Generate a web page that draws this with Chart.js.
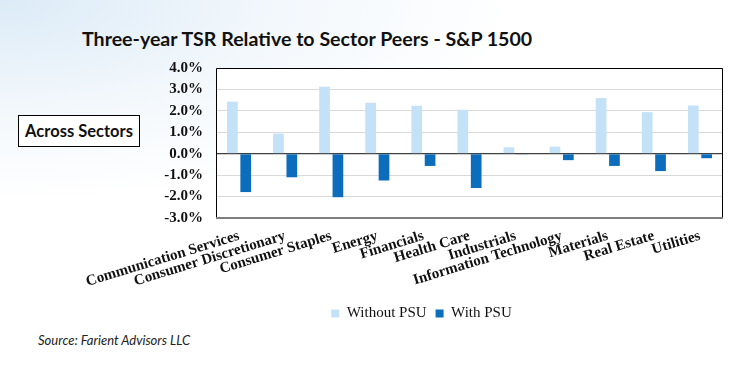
<!DOCTYPE html>
<html>
<head>
<meta charset="utf-8">
<script src="https://cdn.jsdelivr.net/npm/chart.js@4/dist/chart.umd.min.js"></script>
<style>
	html, body { margin: 0; padding: 0; }
	body {
		width: 740px;
		height: 365px;
		position: relative;
		overflow: hidden;
		background: radial-gradient(ellipse 520px 200px at 0 0, #dcebf7 0%, #f3f8fc 55%, #ffffff 100%);
	}
	#title {
		position: absolute; left: 82px; top: 27px;
		font: bold 19.6px Lato, sans-serif; color: #111; white-space: nowrap;
	}
	#tag {
		position: absolute; left: 18px; top: 115px; width: 120px; height: 30px;
		border: 1px solid #000; background: #fff;
		font: bold 16.5px Lato, sans-serif; line-height: 30px; text-align: center; color: #111;
	}
	#source {
		position: absolute; left: 38px; top: 332px;
		font: italic 13px Lato, sans-serif; color: #222;
	}
	#wrap { position: absolute; left: 0; top: 0; width: 740px; height: 365px; }
</style>
</head>
<body>
<div id="title">Three-year TSR Relative to Sector Peers - S&amp;P 1500</div>
<div id="tag">Across Sectors</div>
<div id="source">Source: Farient Advisors LLC</div>
<div id="wrap"><canvas id="tsr-chart"></canvas></div>
<script>
const sectors = ['Communication Services', 'Consumer Discretionary', 'Consumer Staples', 'Energy', 'Financials',
	'Health Care', 'Industrials', 'Information Technology', 'Materials', 'Real Estate', 'Utilities'];
const withoutPsu = [2.43, 0.94, 3.13, 2.38, 2.24, 2.05, 0.30, 0.33, 2.60, 1.94, 2.25];
const withPsu = [-1.79, -1.10, -2.03, -1.25, -0.57, -1.60, -0.02, -0.30, -0.57, -0.81, -0.21];
const yTicks = [4, 3, 2, 1, 0, -1, -2, -3];

// white plot area + black frame around it
const plotFrame = {
	id: 'plotFrame',
	beforeDraw(chart) {
		const { ctx, chartArea: a } = chart;
		ctx.save();
		ctx.fillStyle = '#fff';
		ctx.fillRect(a.left, a.top, a.width, a.height);
		ctx.restore();
	},
	afterDatasetsDraw(chart) {
		const { ctx, chartArea: a } = chart;
		ctx.save();
		ctx.strokeStyle = '#000';
		ctx.lineWidth = 1;
		ctx.beginPath();
		ctx.moveTo(a.left + 0.5, a.bottom);
		ctx.lineTo(a.left + 0.5, a.top + 0.5);
		ctx.lineTo(a.right - 0.5, a.top + 0.5);
		ctx.lineTo(a.right - 0.5, a.bottom);
		ctx.stroke();
		ctx.strokeStyle = '#7f7f7f';
		ctx.lineWidth = 2;
		ctx.beginPath();
		ctx.moveTo(a.left, a.bottom);
		ctx.lineTo(a.right, a.bottom);
		ctx.stroke();
		ctx.restore();
	}
};

new Chart(document.getElementById('tsr-chart'), {
	type: 'bar',
	data: {
		labels: sectors,
		datasets: [{
			label: 'Without PSU',
			data: withoutPsu,
			backgroundColor: '#c3e2f8',
			categoryPercentage: 0.58,
			barPercentage: 0.8
		}, {
			label: 'With PSU',
			data: withPsu,
			backgroundColor: '#0b6dbb',
			categoryPercentage: 0.58,
			barPercentage: 0.8
		}]
	},
	options: {
		responsive: true,
		maintainAspectRatio: false,
		animation: false,
		layout: { padding: { left: 120, right: 17, top: 68, bottom: 34 } },
		plugins: {
			legend: {
				position: 'bottom',
				labels: {
					boxWidth: 8, boxHeight: 8, color: '#111', padding: 9,
					font: { family: '"Liberation Serif", serif', size: 15 }
				}
			},
			tooltip: { enabled: false }
		},
		scales: {
			x: {
				grid: { display: false, drawTicks: false },
				border: { display: false },
				afterFit: s => { s.height = 79; },
				ticks: {
					minRotation: 17, maxRotation: 17, autoSkip: false, padding: 9, color: '#111',
					font: { family: '"Liberation Serif", serif', size: 15, weight: 'bold' }
				}
			},
			y: {
				min: -3, max: 4,
				afterFit: s => { s.width = 96; },
				afterBuildTicks: s => { s.ticks = yTicks.map(v => ({ value: v })); },
				border: { display: false },
				grid: {
					drawTicks: false,
					color: c => c.tick.value === 0 ? '#404040' : '#d9d9d9',
					lineWidth: c => c.tick.value === 0 ? 1.2 : 1
				},
				ticks: {
					padding: 13, color: '#111',
					font: { family: '"Liberation Serif", serif', size: 15, weight: 'bold' },
					callback: v => v.toFixed(1) + '%'
				}
			}
		}
	},
	plugins: [plotFrame]
});
</script>
</body>
</html>
